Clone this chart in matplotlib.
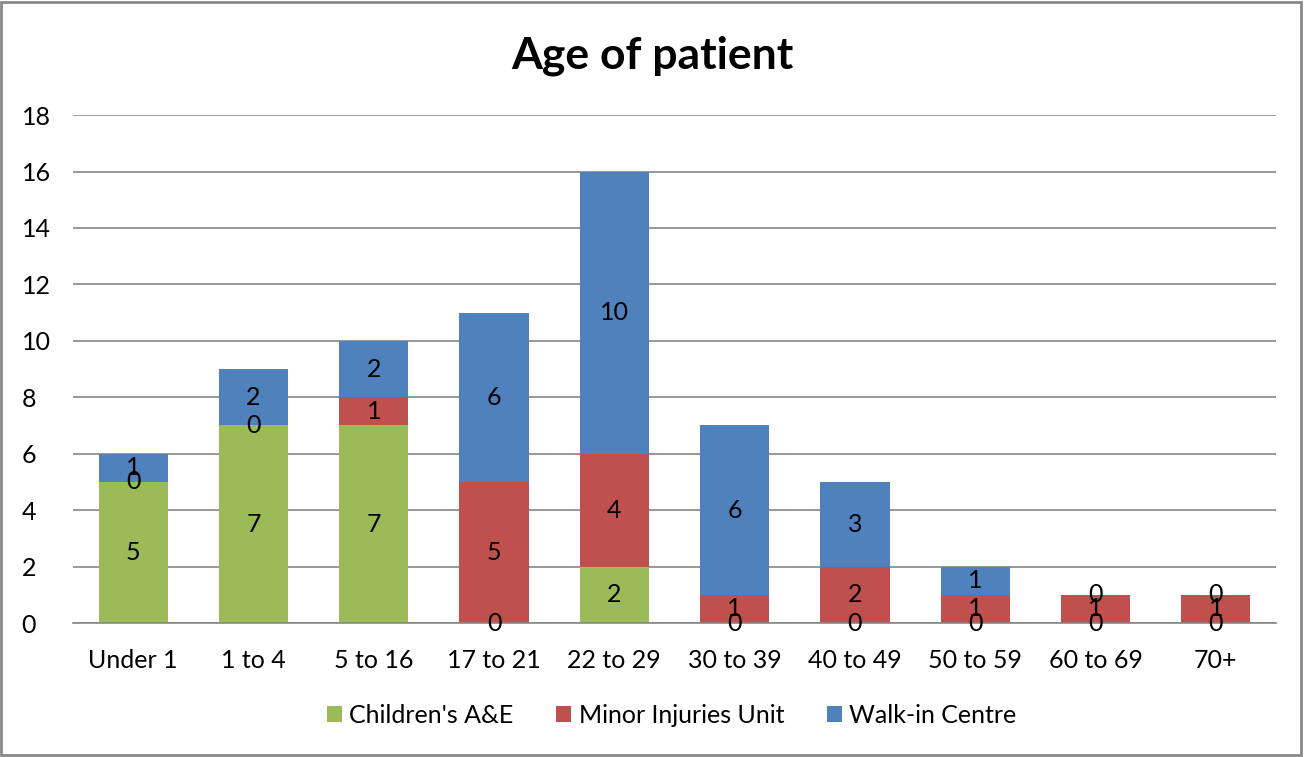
import numpy as np
import matplotlib.pyplot as plt
from matplotlib.patches import Rectangle

categories = ["Under 1", "1 to 4", "5 to 16", "17 to 21", "22 to 29",
              "30 to 39", "40 to 49", "50 to 59", "60 to 69", "70+"]
childrens_ae = [5, 7, 7, 0, 2, 0, 0, 0, 0, 0]
minor_injuries = [0, 0, 1, 5, 4, 1, 2, 1, 1, 1]
walk_in = [1, 2, 2, 6, 10, 6, 3, 1, 0, 0]

series_names = ["Children's A&E", "Minor Injuries Unit", "Walk-in Centre"]
colors = ["#9BBB59", "#C0504D", "#4F81BD"]

plt.rcParams['font.family'] = ['Lato', 'DejaVu Sans']

fig = plt.figure(figsize=(13.04, 7.57), dpi=100)
ax = fig.add_axes([0.056, 0.177, 0.9225, 0.671])

x = np.arange(len(categories))
width = 0.575
bottom = np.zeros(len(categories))
for vals, name, col in zip([childrens_ae, minor_injuries, walk_in], series_names, colors):
    vals = np.array(vals, dtype=float)
    ax.bar(x, vals, width, bottom=bottom, color=col, label=name, zorder=2)
    for xi, b, v in zip(x, bottom, vals):
        ax.text(xi, b + v / 2, f"{int(v)}", ha="center", va="center",
                fontsize=18, color="black", zorder=3)
    bottom += vals

ax.set_xlim(-0.5, len(categories) - 0.5)
ax.set_ylim(0, 18)
ax.set_yticks(range(0, 19, 2))
ax.set_xticks(x)
ax.set_xticklabels(categories)
ax.yaxis.grid(True, color="#868686", linewidth=1.2, zorder=0)
ax.set_axisbelow(True)
for s in ["top", "right", "left"]:
    ax.spines[s].set_visible(False)
ax.spines["bottom"].set_color("#868686")
ax.spines["bottom"].set_linewidth(1.2)
ax.tick_params(axis="both", length=0, labelsize=18, colors="black")
ax.tick_params(axis="y", pad=37)
ax.tick_params(axis="x", pad=19)
for lbl in ax.get_yticklabels():
    lbl.set_horizontalalignment("left")

fig.text(0.5, 0.926, "Age of patient", ha="center", va="center",
         fontsize=32, fontweight="bold")

fig.legend(loc="center", bbox_to_anchor=(0.515, 0.055), ncol=3, frameon=False,
           fontsize=18, handlelength=0.6, handleheight=0.6, handletextpad=0.3,
           columnspacing=1.7)

fig.patches.append(Rectangle((0.001, 0.002), 0.997, 0.996, transform=fig.transFigure,
                             fill=False, edgecolor="#898989", linewidth=2))

fig.savefig("out.png", dpi=100)
